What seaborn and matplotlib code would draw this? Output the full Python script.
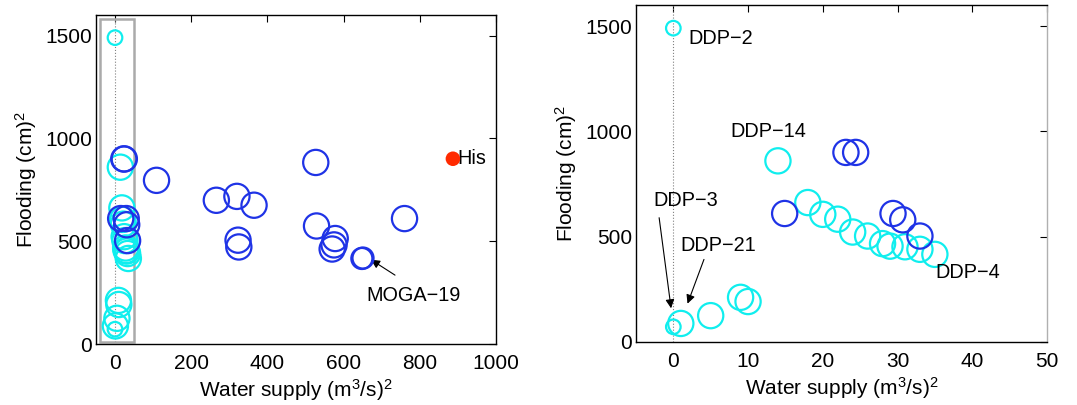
#!/usr/bin/env python
# Flooding vs water supply: all solutions (left) and zoom on the DDP front (right)

import numpy as np
import pandas as pd
import matplotlib
matplotlib.use("Agg")
import matplotlib.pyplot as plt
import seaborn as sns
from matplotlib.patches import Rectangle

# ---------------- data ----------------
# DDP solutions (cyan)
ddp_x = [0, 0, 1, 5, 9, 10, 14, 18, 20, 22, 24, 26, 28, 29, 31, 33, 35]
ddp_y = [1490, 72, 88, 125, 212, 192, 860, 662, 606, 583, 522, 503, 467, 455, 452, 440, 416]

# MOGA solutions (blue)
moga_x = [23.1, 24.4, 14.9, 29.4, 30.7, 33.0,
          109, 266, 320, 365, 323, 325, 527, 529, 578, 575, 570, 648, 651, 760]
moga_y = [900, 900, 610, 610, 580, 503,
          796, 699, 718, 675, 505, 472, 883, 574, 513, 482, 462, 416, 418, 610]

# historical operation
his_x = [887]
his_y = [901]

CYAN = "#10eeee"
BLUE = "#1f33e6"
RED = "#ff2a00"
FONT = "Liberation Sans"
FS = 15        # ticks / axis labels
FS_ANN = 14.3  # annotations

sns.set_style("white")
plt.rcParams["font.family"] = [FONT, "DejaVu Sans"]
plt.rcParams["mathtext.fontset"] = "custom"
plt.rcParams["mathtext.rm"] = FONT
plt.rcParams["mathtext.it"] = FONT
plt.rcParams["axes.unicode_minus"] = True
for key in ["text.color", "axes.labelcolor", "xtick.color", "ytick.color"]:
    plt.rcParams[key] = "black"

ddp = pd.DataFrame({"x": ddp_x, "y": ddp_y})
moga = pd.DataFrame({"x": moga_x, "y": moga_y})
small = ddp.index.isin([0, 1])          # DDP-2 and DDP-3 drawn smaller
moga_small = moga.index.isin([17, 18])  # MOGA-19 pair

fig = plt.figure(figsize=(10.77, 4.05), dpi=100)
ax1 = fig.add_axes([0.0891, 0.1506, 0.3714, 0.8123])
ax2 = fig.add_axes([0.5905, 0.1556, 0.3816, 0.8321])


def draw_points(ax):
    sns.scatterplot(data=ddp[~small], x="x", y="y", ax=ax, s=330, marker="o",
                    facecolor="none", edgecolor=CYAN, linewidth=1.6, zorder=3)
    sns.scatterplot(data=ddp[small], x="x", y="y", ax=ax, s=110, marker="o",
                    facecolor="none", edgecolor=CYAN, linewidth=1.6, zorder=3)
    sns.scatterplot(data=moga[~moga_small], x="x", y="y", ax=ax, s=330, marker="o",
                    facecolor="none", edgecolor=BLUE, linewidth=1.6, zorder=4)
    sns.scatterplot(data=moga[moga_small], x="x", y="y", ax=ax, s=230, marker="o",
                    facecolor="none", edgecolor=BLUE, linewidth=1.6, zorder=4)


def style_axes(ax, right_color="black"):
    ax.set_ylim(0, 1600)
    ax.set_yticks([0, 500, 1000, 1500])
    ax.tick_params(direction="in", top=True, right=True, length=5, width=0.8,
                   labelsize=FS, colors="black")
    ax.tick_params(axis="y", pad=3)
    ax.tick_params(axis="x", pad=7)
    for side, sp in ax.spines.items():
        sp.set_visible(True)
        sp.set_color("black")
        sp.set_linewidth(1.0)
    ax.spines["right"].set_color(right_color)
    ax.set_xlabel(r"Water supply (m$^3$/s)$^2$", fontsize=FS, labelpad=3)
    ax.set_ylabel(r"Flooding (cm)$^2$", fontsize=FS, labelpad=4)
    ax.grid(False)


# ---------------- left panel ----------------
draw_points(ax1)
ax1.scatter(his_x, his_y, s=110, color=RED, zorder=5, edgecolor="none")
ax1.text(his_x[0] + 12, his_y[0], "His", fontsize=FS_ANN, va="center", ha="left")
ax1.plot([0, 0], [10, 1580], ls=":", color="gray", lw=0.8, zorder=1)
ax1.add_patch(Rectangle((-40, 8), 90, 1572, fill=False, edgecolor="#aaaaaa",
                        lw=1.8, zorder=2))
ax1.annotate("", xy=(672, 410), xytext=(735, 335),
             arrowprops=dict(arrowstyle="-|>", color="black", lw=0.8,
                             mutation_scale=13, shrinkA=0, shrinkB=0))
ax1.text(660, 238, "MOGA−19", fontsize=FS_ANN, ha="left", va="center")
ax1.set_xlim(-50, 1000)
ax1.set_xticks([0, 200, 400, 600, 800, 1000])
style_axes(ax1)

# ---------------- right panel ----------------
draw_points(ax2)
ax2.axvline(0, ls=":", color="gray", lw=0.8, zorder=1)
ax2.text(2.0, 1443, "DDP−2", fontsize=FS_ANN, ha="left", va="center")
ax2.text(7.6, 998, "DDP−14", fontsize=FS_ANN, ha="left", va="center")
ax2.text(-2.7, 673, "DDP−3", fontsize=FS_ANN, ha="left", va="center")
ax2.text(1.0, 460, "DDP−21", fontsize=FS_ANN, ha="left", va="center")
ax2.text(35.1, 329, "DDP−4", fontsize=FS_ANN, ha="left", va="center")
ax2.annotate("", xy=(-0.3, 160), xytext=(-1.9, 590),
             arrowprops=dict(arrowstyle="-|>", color="black", lw=0.8,
                             mutation_scale=13, shrinkA=0, shrinkB=0))
ax2.annotate("", xy=(1.9, 182), xytext=(4.1, 392),
             arrowprops=dict(arrowstyle="-|>", color="black", lw=0.8,
                             mutation_scale=13, shrinkA=0, shrinkB=0))
ax2.set_xlim(-5, 50)
ax2.set_xticks([0, 10, 20, 30, 40, 50])
style_axes(ax2, right_color="#b0b0b0")

fig.savefig("out.png", dpi=100)
